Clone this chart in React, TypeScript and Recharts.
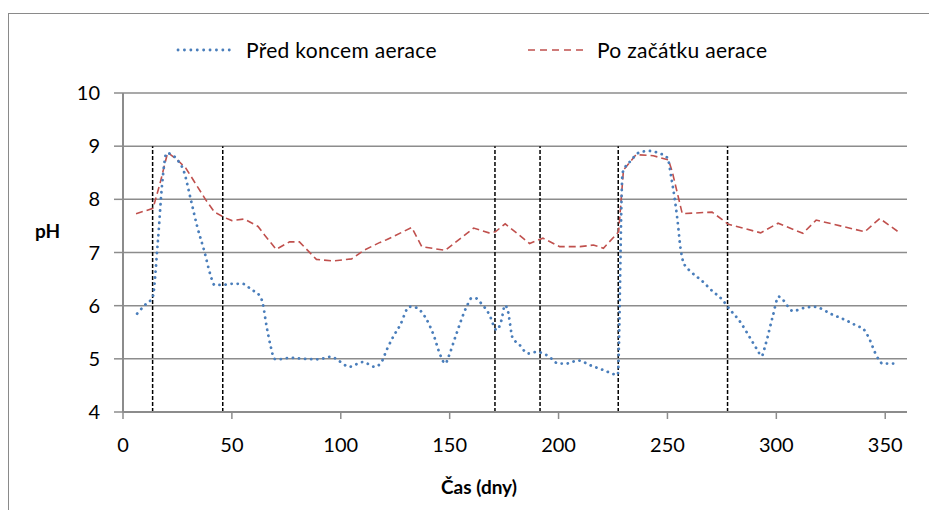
import React from "react";
import {
  LineChart,
  Line,
  XAxis,
  YAxis,
  CartesianGrid,
  ReferenceLine,
} from "recharts";

// pH před koncem aerace (modrá tečkovaná)
const beforeEnd: [number, number][] = [
  [6.5, 5.85], [11, 6.05], [13.5, 6.14], [16, 7.2], [18, 8.3], [20, 8.87],
  [25, 8.74], [28, 8.52], [31, 8.02], [34, 7.5], [37.5, 7.0], [40, 6.6],
  [42, 6.39], [46, 6.39], [49, 6.41], [55, 6.41], [59, 6.3], [62.5, 6.2],
  [64, 6.07], [66, 5.6], [68, 5.2], [69.5, 5.0], [71, 4.99], [77, 5.02],
  [83, 5.0], [89.5, 4.99], [95.7, 5.04], [98.8, 4.97], [104, 4.85],
  [110, 4.94], [115.7, 4.85], [118.7, 4.94], [121, 5.16], [124, 5.41],
  [127.2, 5.63], [131.5, 5.98], [134.1, 5.97], [138.7, 5.79], [142.6, 5.45],
  [145.7, 5.07], [148, 4.91], [149.5, 5.04], [152.6, 5.41], [158, 6.0],
  [160, 6.14], [162, 6.14], [164.1, 6.06], [168, 5.85], [171.6, 5.54],
  [173.8, 5.73], [175.4, 6.01], [176.6, 5.92], [179, 5.38], [181.5, 5.29],
  [186, 5.1], [190, 5.13], [195.4, 5.05], [200, 4.91], [203.5, 4.91],
  [209, 4.97], [214.5, 4.88], [220.5, 4.79], [227.2, 4.7], [229.4, 8.5],
  [233.5, 8.74], [236.5, 8.87], [241.5, 8.91], [246, 8.87], [250, 8.78],
  [251.8, 8.4], [253.3, 8.02], [254.6, 7.61], [256, 7.08], [257.2, 6.83],
  [258.8, 6.72], [261, 6.63], [266, 6.46], [270.5, 6.28], [275, 6.12],
  [278.8, 5.92], [282.8, 5.73], [288.3, 5.37], [291.4, 5.16], [293.2, 5.05],
  [295.2, 5.29], [298.3, 5.79], [301.1, 6.17], [303, 6.11], [307.6, 5.9],
  [313, 5.96], [317, 5.98], [319.5, 5.96], [325.3, 5.84], [331.2, 5.74],
  [337, 5.62], [340, 5.56], [343, 5.35], [345.4, 5.11], [347, 4.99],
  [348.8, 4.91], [352, 4.91], [355, 4.91],
];

// pH po začátku aerace (červená čárkovaná)
const afterStart: [number, number][] = [
  [6, 7.73], [13.8, 7.83], [17, 8.3], [20.5, 8.88], [25, 8.74], [28.8, 8.59],
  [38, 7.99], [42, 7.76], [46.5, 7.66], [50, 7.6], [55.7, 7.63], [62, 7.49],
  [65, 7.33], [70.3, 7.06], [76.5, 7.2], [81, 7.2], [88.8, 6.87],
  [96.5, 6.84], [105, 6.88], [111, 7.05], [118, 7.19], [121, 7.24],
  [132.6, 7.47], [137.2, 7.11], [148, 7.04], [161, 7.46], [168, 7.37],
  [171, 7.39], [175.5, 7.54], [186.7, 7.17], [192.8, 7.27], [200.5, 7.11],
  [209.8, 7.11], [216, 7.14], [220.6, 7.08], [227.6, 7.39], [229.8, 8.55],
  [235.6, 8.84], [243.5, 8.82], [250.5, 8.74], [252.2, 8.52], [256.8, 7.73],
  [270.5, 7.76], [278, 7.53], [292.8, 7.37], [300.8, 7.55], [312.2, 7.36],
  [318.3, 7.61], [340.6, 7.39], [347.5, 7.64], [357, 7.36],
];

// svislé čáry - hranice období
const markers = [13.6, 45.8, 170.8, 191.5, 227.4, 277.6];

const xTicks = [0, 50, 100, 150, 200, 250, 300, 350];
const yTicks = [4, 5, 6, 7, 8, 9, 10];

const toPoints = (arr: [number, number][]) =>
  arr.map(([x, y]) => ({ x, y }));

const FONT = "Lato, 'Open Sans', sans-serif";
const GRAY = "#8c8c8c";
const BLUE = "#4a7ebb";
const RED = "#c0504d";

export default function App() {
  const blue = toPoints(beforeEnd);
  const red = toPoints(afterStart);

  const legendText: React.CSSProperties = {
    position: "absolute",
    top: 37,
    fontSize: 21,
    letterSpacing: 0.3,
    whiteSpace: "nowrap",
    color: "#000",
  };

  return (
    <div
      style={{
        position: "absolute",
        left: 0,
        top: 0,
        width: 929,
        height: 510,
        overflow: "hidden",
        background: "#fff",
        fontFamily: FONT,
      }}
    >
      <div
        style={{
          position: "absolute",
          left: 8,
          top: 13,
          width: 1000,
          height: 600,
          border: "1.5px solid #8a8a8a",
        }}
      />
      {/* legenda */}
      <div style={{ position: "absolute", left: 0, top: 0 }}>
        <svg width={929} height={80} style={{ position: "absolute", left: 0, top: 0 }}>
          <line
            x1={178}
            x2={235}
            y1={50}
            y2={50}
            stroke={BLUE}
            strokeWidth={2.8}
            strokeDasharray="0.1 6.3"
            strokeLinecap="round"
          />
          <line
            x1={528}
            x2={583}
            y1={50}
            y2={50}
            stroke={RED}
            strokeWidth={1.6}
            strokeDasharray="7 5"
          />
        </svg>
        <span style={{ ...legendText, left: 246 }}>Před koncem aerace</span>
        <span style={{ ...legendText, left: 597 }}>Po začátku aerace</span>
      </div>
      <div style={{ position: "absolute", left: 0, top: 0 }}>
        <LineChart
          width={929}
          height={510}
          margin={{ top: 93, right: 22, bottom: 0, left: 20 }}
        >
          <CartesianGrid
            vertical={false}
            stroke={GRAY}
            strokeWidth={1.5}
          />
          <XAxis
            type="number"
            dataKey="x"
            domain={[0, 360]}
            ticks={xTicks}
            allowDataOverflow
            height={98}
            tickSize={7}
            tickMargin={19}
            axisLine={{ stroke: GRAY, strokeWidth: 2 }}
            tickLine={{ stroke: GRAY, strokeWidth: 1.5 }}
            tick={{ fontSize: 20, fill: "#000", fontFamily: FONT }}
            label={{
              value: "Čas (dny)",
              position: "insideBottom",
              offset: 16,
              dx: -36,
              style: {
                fontSize: 19,
                fontWeight: 700,
                fill: "#000",
                fontFamily: FONT,
              },
            }}
          />
          <YAxis
            type="number"
            dataKey="y"
            domain={[4, 10]}
            ticks={yTicks}
            width={103}
            tickSize={9}
            tickMargin={14}
            axisLine={{ stroke: GRAY, strokeWidth: 2 }}
            tickLine={{ stroke: GRAY, strokeWidth: 1.5 }}
            tick={{ fontSize: 20, fill: "#000", fontFamily: FONT }}
            label={{
              value: "pH",
              position: "insideLeft",
              offset: 15,
              dy: -21,
              style: {
                fontSize: 19,
                fontWeight: 700,
                fill: "#000",
                fontFamily: FONT,
              },
            }}
          />
          {markers.map((m) => (
            <ReferenceLine
              key={m}
              segment={[
                { x: m, y: 4 },
                { x: m, y: 9 },
              ]}
              stroke="#000"
              strokeWidth={1.5}
              strokeDasharray="4 2"
            />
          ))}
          <Line
            data={red}
            dataKey="y"
            type="linear"
            stroke={RED}
            strokeWidth={1.6}
            strokeDasharray="7 4"
            dot={false}
            activeDot={false}
            isAnimationActive={false}
          />
          <Line
            data={blue}
            dataKey="y"
            type="monotone"
            stroke={BLUE}
            strokeWidth={2.8}
            strokeDasharray="0.1 6"
            strokeLinecap="round"
            dot={false}
            activeDot={false}
            isAnimationActive={false}
          />
        </LineChart>
      </div>
    </div>
  );
}
